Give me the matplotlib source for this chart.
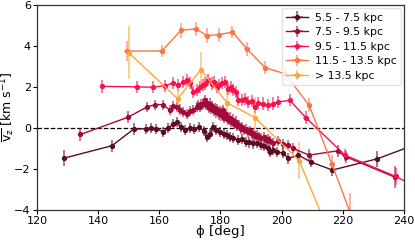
import matplotlib
matplotlib.use("Agg")
import matplotlib.pyplot as plt
from matplotlib.colors import to_rgba

# ---------------- data ----------------
labels = ["5.5 - 7.5 kpc", "7.5 - 9.5 kpc", "9.5 - 11.5 kpc", "11.5 - 13.5 kpc", "> 13.5 kpc"]
colors = ["#5e0c22", "#a3093a", "#f7124f", "#fb7448", "#fda63b"]

phi1 = [128.8, 144.5, 151.6, 155.5, 157.2, 159.0, 161.3, 163.0, 164.6, 165.7, 167.0, 168.5,
        170.0, 171.5, 173.0, 174.5, 175.5, 176.6, 177.6, 178.7, 179.8, 181.0, 182.0, 183.0,
        184.2, 185.8, 187.0, 188.2, 189.5, 190.7, 192.0, 193.2, 194.4, 195.6, 196.2, 197.3,
        198.4, 200.3, 202.2, 205.5, 209.5, 216.6, 231.3, 246.0]
vz1 = [-1.49, -0.88, -0.07, -0.05, 0.0, -0.05, -0.2, 0.0, 0.2, 0.28, 0.02, -0.1,
       0.0, -0.05, 0.05, -0.15, -0.45, -0.29, 0.04, -0.1, -0.2, -0.3, -0.37, -0.45,
       -0.5, -0.61, -0.55, -0.7, -0.72, -0.77, -0.74, -0.85, -0.9, -1.01, -1.18, -1.1,
       -1.18, -1.23, -1.5, -1.34, -1.67, -2.07, -1.52, -0.7]
ey1 = [0.4, 0.3, 0.3] + [0.25] * 38 + [0.3, 0.4, 0.4]
ex1 = [0.6, 0.6, 0.6] + [0.5] * 38 + [0.6, 0.8, 0.8]

phi2 = [134.2, 149.7, 155.9, 158.6, 161.3, 163.5, 164.5, 165.7, 166.8, 167.9, 169.0, 170.0,
        171.1, 172.2, 172.7, 173.3, 173.8, 174.4, 174.9, 175.3, 175.7, 176.1, 176.6, 177.0,
        177.4, 177.8, 178.2, 178.6, 179.0, 179.4, 179.8, 180.2, 180.6, 180.9, 181.3, 181.7,
        182.0, 182.5, 183.0, 183.5, 184.0, 184.5, 185.0, 185.5, 186.0, 186.6, 187.2, 187.8,
        188.4, 189.0, 189.6, 190.2, 190.8, 191.4, 192.0, 192.7, 193.4, 194.1, 194.8, 195.5,
        196.2, 197.3, 198.9, 200.5, 202.0, 203.8, 209.0, 218.3, 221.0, 237.1]
vz2 = [-0.33, 0.51, 1.01, 1.13, 1.13, 0.85, 1.05, 1.0, 0.89, 0.77, 0.69, 0.8,
       0.85, 1.01, 1.1, 1.0, 1.15, 1.18, 1.34, 1.1, 1.2, 0.95, 1.18, 0.9,
       1.05, 0.8, 0.95, 0.75, 0.9, 0.65, 0.8, 0.6, 0.75, 0.85, 0.5, 0.65,
       0.53, 0.4, 0.5, 0.3, 0.4, 0.2, 0.3, 0.1, 0.15, -0.05, 0.05, -0.1,
       -0.05, -0.2, -0.15, -0.3, -0.25, -0.4, -0.35, -0.45, -0.5, -0.45, -0.6, -0.55,
       -0.65, -0.77, -0.64, -0.8, -0.85, -1.01, -1.34, -1.13, -1.42, -2.42]
ey2 = [0.3, 0.3] + [0.25] * 64 + [0.3, 0.3, 0.3, 0.55]
ex2 = [0.6, 0.6] + [0.5] * 64 + [0.6, 0.6, 0.6, 0.6]

phi3 = [141.4, 152.6, 157.8, 161.7, 164.6, 166.2, 167.9, 169.0, 170.0, 171.1, 172.2, 173.3,
        174.3, 174.9, 176.0, 177.1, 178.0, 178.8, 179.6, 180.4, 181.5, 182.6, 183.4, 184.2,
        185.0, 185.8, 186.9, 188.0, 189.1, 190.2, 191.3, 192.4, 194.0, 195.6, 197.3, 198.9,
        202.7, 207.9, 220.7, 237.3, 250.0]
vz3 = [2.02, 2.0, 1.98, 2.05, 2.19, 2.1, 2.23, 2.32, 2.2, 1.75, 1.85, 1.99,
       2.1, 2.16, 2.32, 2.16, 2.25, 1.99, 2.1, 2.19, 2.23, 1.91, 2.0, 1.83,
       1.75, 1.38, 1.35, 1.42, 1.26, 1.3, 1.01, 1.2, 1.18, 1.1, 1.18, 1.26,
       1.34, 0.5, -1.34, -2.38, -3.35]
ey3 = [0.3] * 37 + [0.3, 0.3, 0.4, 0.4]
ex3 = [0.8, 0.8] + [0.5] * 35 + [0.8, 0.8, 0.8, 0.8]

phi4 = [149.3, 160.8, 167.1, 172.0, 175.5, 179.6, 183.9, 188.6, 194.6, 201.1, 209.0, 216.4, 222.3]
vz4 = [3.75, 3.75, 4.76, 4.84, 4.51, 4.55, 4.68, 3.86, 2.94, 2.64, 1.1, -1.75, -4.1]
ey4 = [0.5, 0.3, 0.35, 0.35, 0.35, 0.35, 0.3, 0.35, 0.3, 0.3, 0.35, 0.4, 0.9]
ex4 = [0.8] * 13

phi5 = [150.0, 166.0, 173.6, 182.2, 191.3, 205.8, 216.0]
vz5 = [3.67, 1.42, 2.84, 1.21, 0.5, -1.62, -5.3]
ey5 = [1.3, 0.7, 0.85, 0.8, 1.0, 0.9, 1.0]
ex5 = [0.5] * 7

series = [(phi1, vz1, ex1, ey1), (phi2, vz2, ex2, ey2), (phi3, vz3, ex3, ey3),
          (phi4, vz4, ex4, ey4), (phi5, vz5, ex5, ey5)]

# ---------------- plot ----------------
fig = plt.figure(figsize=(4.15, 2.40), dpi=100)
ax = fig.add_axes([0.0892, 0.127, 0.884, 0.852])

ax.axhline(0, color="black", ls="--", lw=0.9, zorder=1)

for (x, y, ex, ey), c, lab in zip(series, colors, labels):
    ax.errorbar(x, y, xerr=ex, yerr=ey, fmt="-o", color=c, ms=2.8, lw=1.0,
                ecolor=to_rgba(c, 0.55), elinewidth=1.4, capsize=0, label=lab,
                clip_on=True)

ax.set_xlim(120, 240)
ax.set_ylim(-4, 6)
ax.set_xticks([120, 140, 160, 180, 200, 220, 240])
ax.set_yticks([-4, -2, 0, 2, 4, 6])
ax.tick_params(labelsize=8, length=3, width=0.8, pad=1.5)
for s in ax.spines.values():
    s.set_color("#333333")
    s.set_linewidth(0.9)

ax.set_xlabel("ϕ [deg]", fontsize=9.5)
ax.xaxis.set_label_coords(0.5, -0.075)
ax.set_ylabel(r"$\overline{\mathrm{v_z}}$ [km s$^{-1}$]", fontsize=9)
ax.yaxis.set_label_coords(-0.055, 0.5)

leg = ax.legend(loc="upper right", fontsize=7.8, frameon=True, borderpad=0.4,
                labelspacing=0.42, handlelength=2.0, handletextpad=0.6,
                borderaxespad=0.3)
leg.get_frame().set_edgecolor("#dddddd")

fig.savefig("out.png", dpi=100)
